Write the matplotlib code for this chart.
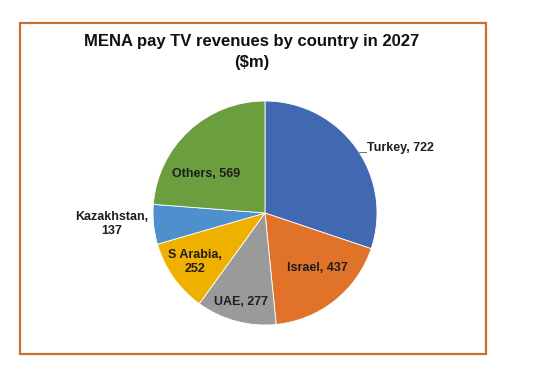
import numpy as np
import matplotlib
matplotlib.use("Agg")
import matplotlib.pyplot as plt
from matplotlib.patches import Rectangle

countries = ["Turkey", "Israel", "UAE", "S Arabia", "Kazakhstan", "Others"]
revenues = [722, 437, 277, 252, 137, 569]
colors = ["#4169B2", "#E0722A", "#9A9A9A", "#F0B000", "#4E90CE", "#6A9E3F"]

plt.rcParams["font.family"] = ["Liberation Sans", "DejaVu Sans"]

fig = plt.figure(figsize=(5.46, 3.85), dpi=100)
W, H = 546, 385

# orange frame round the chart
fig.patches.append(Rectangle((20 / W, 1 - 354 / H), 466 / W, 331 / H,
                             transform=fig.transFigure, fill=False,
                             edgecolor="#C8702F", linewidth=1.6))

fig.text(252 / W, 1 - 52 / H, "MENA pay TV revenues by country in 2027\n($m)",
         ha="center", va="center", fontsize=12, fontweight="bold",
         color="#111111", linespacing=1.45)

# pie centred at (265, 213) px, radius 112 px
ax = fig.add_axes([(265 - 112) / W, (H - 213 - 112) / H, 224 / W, 224 / H])
wedges, _ = ax.pie(revenues, colors=colors, startangle=90, counterclock=False,
                   radius=1, wedgeprops=dict(edgecolor="white", linewidth=0.6))
ax.set_xlim(-1, 1)
ax.set_ylim(-1, 1)
ax.axis("off")

# inside labels: radial distance and angle nudge per slice
inside = {1: (0.68, 5), 2: (0.82, 0), 3: (0.76, 0), 5: (0.63, 14)}
for i, (r, nudge) in inside.items():
    w = wedges[i]
    mid = np.deg2rad((w.theta1 + w.theta2) / 2 + nudge)
    txt = f"{countries[i]}, {revenues[i]}"
    if countries[i] == "S Arabia":
        txt = f"{countries[i]},\n{revenues[i]}"
    ax.text(r * np.cos(mid), r * np.sin(mid), txt, ha="center", va="center",
            fontsize=9, fontweight="bold", color="#1E1E1E", linespacing=1.15)

# Turkey label outside with a short leader line
ax.plot([0.84, 0.905], [0.545, 0.545], color="#555555", linewidth=0.6,
        clip_on=False)
ax.text(0.91, 0.58, f"{countries[0]}, {revenues[0]}", ha="left", va="center",
        fontsize=9, fontweight="bold", color="#1E1E1E")

# Kazakhstan label outside on the left
ax.text(-1.366, -0.098, f"{countries[4]},\n{revenues[4]}", ha="center",
        va="center", fontsize=9, fontweight="bold", color="#1E1E1E",
        linespacing=1.15)

fig.savefig("out.png", dpi=100)
